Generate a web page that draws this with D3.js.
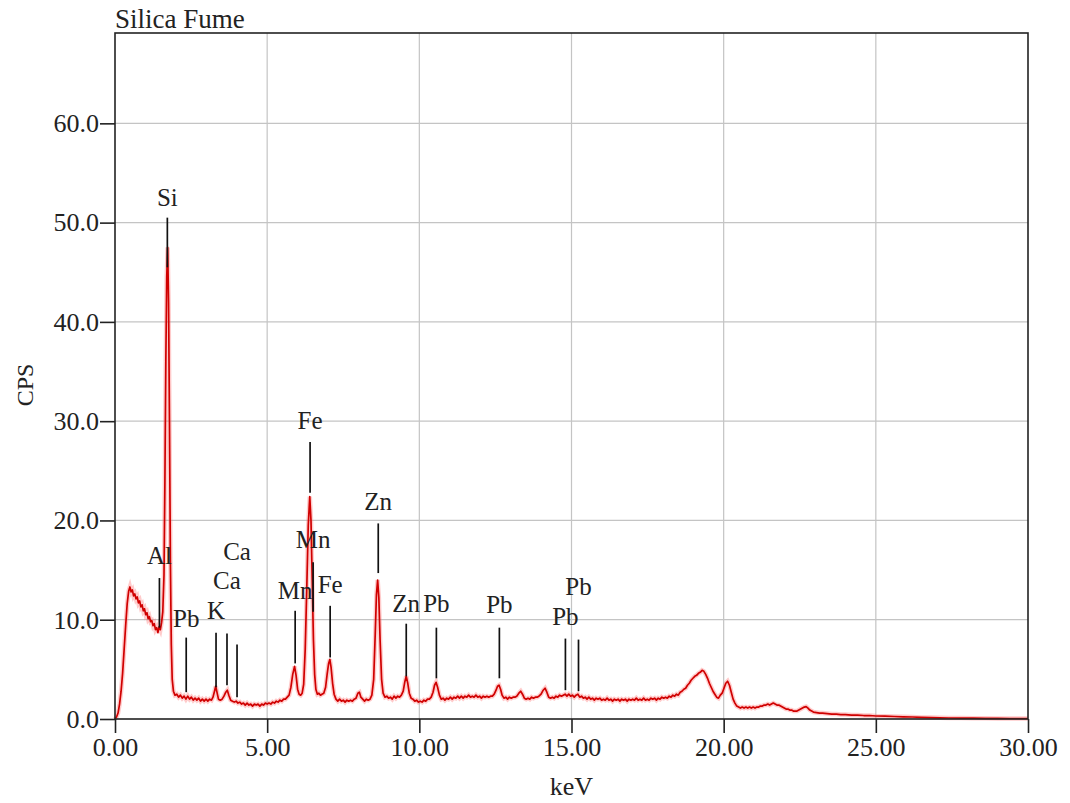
<!DOCTYPE html>
<html>
<head>
<meta charset="utf-8">
<script src="https://cdn.jsdelivr.net/npm/d3@7"></script>
<style>
  html, body { margin: 0; padding: 0; background: #fff; }
</style>
</head>
<body>
<div id="canvas"></div>
<script>
// Constants
const w = 1070;
const h = 803;
const plotLeft = 115, plotRight = 1028, plotTop = 33, plotBottom = 719;
const font = "'Liberation Serif', 'Times New Roman', serif";

// Data
const xTicks = [0, 5, 10, 15, 20, 25, 30];
const yTicks = [0, 10, 20, 30, 40, 50, 60];

// spectrum as [keV, CPS]
const spectrum = [
  [0.00,0.0],[0.05,0.2],[0.10,0.6],[0.15,1.5],[0.20,2.8],[0.25,4.6],[0.30,7.0],[0.35,9.4],[0.40,11.6],[0.45,12.9],
  [0.49,13.3],[0.53,12.8],[0.57,13.0],[0.61,12.4],[0.65,12.6],[0.69,12.1],[0.73,12.3],[0.77,11.7],[0.81,11.9],[0.85,11.3],
  [0.89,11.5],[0.93,10.9],[0.97,11.1],[1.01,10.5],[1.05,10.7],[1.09,10.1],[1.13,10.3],[1.17,9.8],[1.21,9.9],[1.25,9.4],
  [1.29,9.6],[1.33,9.0],[1.37,9.2],[1.41,8.7],[1.45,9.3],[1.49,9.0],[1.53,9.7],[1.57,10.8],[1.61,14.5],[1.64,24],
  [1.67,36],[1.70,44.5],[1.73,47.5],[1.76,42],[1.79,30],[1.82,16],[1.85,7.5],[1.88,4.0],[1.92,2.8],[1.97,2.4],
  [2.03,2.5],[2.09,2.2],[2.15,2.4],[2.21,2.1],[2.27,2.3],[2.33,2.0],[2.39,2.3],[2.45,2.0],[2.51,2.2],[2.57,1.9],
  [2.63,2.1],[2.69,1.9],[2.75,2.1],[2.81,1.8],[2.87,2.0],[2.93,1.8],[2.99,2.0],[3.05,1.8],[3.11,2.0],[3.17,1.9],
  [3.22,2.2],[3.27,2.8],[3.31,3.3],[3.35,2.7],[3.40,2.0],[3.46,1.9],[3.52,2.0],[3.58,2.3],[3.64,2.7],[3.69,2.9],
  [3.74,2.4],[3.80,1.9],[3.86,1.8],[3.92,1.7],[3.98,1.8],[4.04,1.6],[4.10,1.7],[4.16,1.5],[4.22,1.6],[4.28,1.4],
  [4.34,1.6],[4.40,1.4],[4.46,1.5],[4.52,1.3],[4.58,1.5],[4.64,1.4],[4.70,1.5],[4.76,1.3],[4.82,1.5],[4.88,1.4],
  [4.94,1.6],[5.00,1.5],[5.06,1.6],[5.12,1.5],[5.18,1.7],[5.24,1.6],[5.30,1.8],[5.36,1.7],[5.42,1.9],[5.48,1.8],
  [5.54,2.0],[5.60,2.0],[5.66,2.2],[5.72,2.4],[5.78,3.2],[5.84,4.5],[5.90,5.3],[5.95,4.4],[6.00,3.0],[6.05,2.5],
  [6.10,2.4],[6.15,2.6],[6.20,3.5],[6.25,7],[6.30,13],[6.35,19.5],[6.40,22.4],[6.44,20],[6.48,14],[6.52,8],
  [6.56,4.5],[6.60,3.0],[6.65,2.5],[6.70,2.6],[6.75,2.4],[6.80,2.5],[6.86,2.6],[6.92,3.2],[6.97,4.5],[7.02,5.6],
  [7.06,6.0],[7.10,5.2],[7.15,3.6],[7.20,2.5],[7.26,2.0],[7.32,1.8],[7.38,2.0],[7.44,1.8],[7.50,1.9],[7.56,1.7],
  [7.62,1.9],[7.68,1.8],[7.74,1.9],[7.80,1.8],[7.86,2.0],[7.92,2.1],[7.98,2.6],[8.03,2.7],[8.08,2.2],[8.14,2.0],
  [8.20,1.8],[8.26,2.0],[8.32,1.9],[8.38,2.0],[8.44,2.4],[8.50,4.0],[8.55,8.5],[8.59,12.5],[8.63,14.0],[8.67,12.2],
  [8.71,8.0],[8.76,4.0],[8.81,2.6],[8.87,2.2],[8.93,2.3],[8.99,2.1],[9.05,2.2],[9.11,2.0],[9.17,2.3],[9.23,2.1],
  [9.29,2.3],[9.35,2.2],[9.41,2.4],[9.47,2.8],[9.52,3.7],[9.57,4.3],[9.62,3.6],[9.67,2.6],[9.73,2.1],[9.79,2.0],
  [9.85,1.8],[9.91,1.9],[9.97,1.7],[10.03,1.8],[10.09,1.7],[10.15,1.9],[10.21,1.8],[10.27,2.0],[10.33,2.0],[10.39,2.2],
  [10.45,2.7],[10.50,3.4],[10.55,3.7],[10.60,3.2],[10.66,2.4],[10.72,2.0],[10.78,2.1],[10.84,1.9],[10.90,2.1],[10.96,2.0],
  [11.02,2.2],[11.08,2.0],[11.14,2.2],[11.20,2.1],[11.26,2.3],[11.32,2.1],[11.38,2.3],[11.44,2.1],[11.50,2.3],[11.56,2.2],
  [11.62,2.4],[11.68,2.2],[11.74,2.3],[11.80,2.2],[11.86,2.4],[11.92,2.2],[11.98,2.3],[12.04,2.1],[12.10,2.3],[12.16,2.2],
  [12.22,2.3],[12.28,2.2],[12.34,2.3],[12.40,2.3],[12.46,2.5],[12.52,2.9],[12.57,3.3],[12.62,3.4],[12.67,3.0],[12.72,2.4],
  [12.78,2.1],[12.84,2.2],[12.90,2.0],[12.96,2.2],[13.02,2.1],[13.08,2.2],[13.14,2.2],[13.20,2.3],[13.27,2.6],[13.33,2.8],
  [13.39,2.5],[13.45,2.1],[13.51,2.0],[13.57,2.1],[13.63,2.0],[13.69,2.2],[13.75,2.1],[13.81,2.2],[13.87,2.2],[13.93,2.3],
  [14.00,2.5],[14.07,2.9],[14.13,3.1],[14.19,2.7],[14.25,2.2],[14.31,2.1],[14.37,2.2],[14.43,2.1],[14.49,2.3],[14.55,2.2],
  [14.61,2.4],[14.67,2.3],[14.73,2.4],[14.79,2.5],[14.85,2.3],[14.91,2.5],[14.97,2.3],[15.03,2.4],[15.09,2.2],[15.15,2.4],
  [15.21,2.5],[15.27,2.2],[15.33,2.3],[15.39,2.1],[15.45,2.2],[15.51,2.0],[15.57,2.2],[15.63,2.0],[15.69,2.1],[15.75,1.9],
  [15.81,2.1],[15.87,2.0],[15.93,2.1],[15.99,1.9],[16.05,2.0],[16.11,1.9],[16.17,2.1],[16.23,1.9],[16.29,2.0],[16.35,1.8],
  [16.41,2.0],[16.47,1.9],[16.53,2.0],[16.59,1.8],[16.65,2.0],[16.71,1.9],[16.77,2.0],[16.83,1.8],[16.89,2.0],[16.95,1.9],
  [17.01,2.0],[17.07,1.9],[17.13,2.1],[17.19,1.9],[17.25,2.0],[17.31,1.9],[17.37,2.1],[17.43,1.9],[17.49,2.0],[17.55,1.9],
  [17.61,2.1],[17.67,2.0],[17.73,2.1],[17.79,1.9],[17.85,2.1],[17.91,2.0],[17.97,2.2],[18.03,2.1],[18.09,2.2],[18.15,2.1],
  [18.21,2.3],[18.27,2.2],[18.33,2.4],[18.39,2.3],[18.45,2.5],[18.51,2.4],[18.57,2.7],[18.63,2.8],[18.69,3.0],[18.75,3.1],
  [18.81,3.4],[18.87,3.6],[18.93,3.9],[18.99,4.1],[19.05,4.3],[19.11,4.4],[19.17,4.6],[19.23,4.7],[19.29,4.9],[19.35,4.8],
  [19.41,4.5],[19.47,4.1],[19.53,3.6],[19.59,3.2],[19.65,2.8],[19.71,2.5],[19.77,2.2],[19.83,2.1],[19.89,2.4],[19.95,2.6],
  [20.01,3.1],[20.07,3.6],[20.13,3.8],[20.19,3.4],[20.25,2.7],[20.31,2.0],[20.37,1.6],[20.43,1.3],[20.49,1.2],[20.55,1.1],
  [20.61,1.2],[20.67,1.1],[20.73,1.2],[20.79,1.1],[20.85,1.2],[20.91,1.1],[20.97,1.2],[21.03,1.1],[21.09,1.2],[21.15,1.2],
  [21.21,1.3],[21.27,1.3],[21.33,1.4],[21.39,1.4],[21.45,1.5],[21.51,1.4],[21.57,1.5],[21.63,1.6],[21.69,1.5],[21.75,1.4],
  [21.81,1.4],[21.87,1.3],[21.93,1.2],[21.99,1.1],[22.05,1.0],[22.11,1.0],[22.17,0.9],[22.23,0.9],[22.29,0.8],[22.35,0.8],
  [22.41,0.8],[22.47,0.9],[22.53,1.0],[22.59,1.1],[22.65,1.2],[22.71,1.25],[22.77,1.1],[22.83,0.9],[22.89,0.8],[22.95,0.7],
  [23.05,0.65],[23.15,0.6],[23.25,0.6],[23.40,0.55],[23.55,0.5],[23.70,0.5],[23.85,0.45],[24.0,0.45],[24.2,0.4],[24.4,0.4],
  [24.6,0.35],[24.8,0.35],[25.0,0.3],[25.3,0.28],[25.6,0.25],[25.9,0.22],[26.2,0.2],[26.5,0.16],[26.8,0.14],[27.1,0.12],
  [27.4,0.1],[27.8,0.09],[28.2,0.08],[28.6,0.07],[29.0,0.06],[29.4,0.05],[29.8,0.05],[30.0,0.05]
];

// peak markers: element, keV, line top / bottom (CPS), label baseline (CPS)
const markLabels = ["Al", "Si", "Pb", "K", "Ca", "Ca", "Mn", "Fe", "Mn", "Fe", "Zn", "Zn", "Pb", "Pb", "Pb", "Pb"];
const markKeV    = [1.46, 1.72, 2.34, 3.32, 3.68, 4.01, 5.92, 6.41, 6.51, 7.07, 8.65, 9.57, 10.56, 12.63, 14.80, 15.23];
const markTop    = [14.2, 50.5, 8.2, 8.7, 8.6, 7.5, 10.9, 27.9, 15.8, 11.4, 19.7, 9.6, 9.2, 9.2, 8.1, 8.0];
const markBottom = [9.2, 45.5, 2.7, 3.2, 3.4, 2.2, 5.6, 22.8, 10.8, 6.2, 14.7, 4.3, 4.1, 4.1, 2.9, 2.8];
const markText   = [15.6, 51.7, 9.3, 10.1, 13.1, 16.0, 12.1, 29.2, 17.2, 12.7, 21.1, 10.8, 10.8, 10.7, 9.5, 12.5];

// Scales
const xScale = d3.scaleLinear().domain([0, 30]).range([plotLeft, plotRight]);
const yScale = d3.scaleLinear().domain([0, 69.1]).range([plotBottom, plotTop]);

// SVG setup
const svg = d3.select("#canvas").append("svg")
  .attr("width", w)
  .attr("height", h)
  .style("background-color", "white")
  .style("display", "block");

function drawGrid() {
  const grid = svg.append("g").attr("class", "grid");
  grid.selectAll(".vline")
    .data(xTicks.filter(d => d > 0 && d < 30))
    .join("line")
    .attr("x1", d => xScale(d)).attr("x2", d => xScale(d))
    .attr("y1", plotTop).attr("y2", plotBottom)
    .attr("stroke", "#c4c4c4").attr("stroke-width", 1.2);
  grid.selectAll(".hline")
    .data(yTicks.filter(d => d > 0))
    .join("line")
    .attr("x1", plotLeft).attr("x2", plotRight)
    .attr("y1", d => yScale(d)).attr("y2", d => yScale(d))
    .attr("stroke", "#c4c4c4").attr("stroke-width", 1.2);
}

function drawAxes() {
  const yAxisGroup = svg.append("g")
    .attr("transform", `translate(${plotLeft},0)`)
    .call(d3.axisLeft(yScale).tickValues(yTicks).tickFormat(d3.format(".1f"))
      .tickSize(15).tickSizeOuter(0).tickPadding(1));
  const xAxisGroup = svg.append("g")
    .attr("transform", `translate(0,${plotBottom})`)
    .call(d3.axisBottom(xScale).tickValues(xTicks).tickFormat(d3.format(".2f"))
      .tickSize(14).tickSizeOuter(0).tickPadding(5));

  [yAxisGroup, xAxisGroup].forEach(g => {
    g.select(".domain").remove();
    g.selectAll(".tick line").attr("stroke", "#222").attr("stroke-width", 1.6);
    g.selectAll(".tick text")
      .attr("fill", "#222")
      .style("font-family", font)
      .style("font-size", "26px");
  });

  // plot frame
  svg.append("rect")
    .attr("x", plotLeft).attr("y", plotTop)
    .attr("width", plotRight - plotLeft).attr("height", plotBottom - plotTop)
    .attr("fill", "none")
    .attr("stroke", "#222")
    .attr("stroke-width", 1.6);

  svg.append("text")
    .attr("x", plotLeft).attr("y", 28)
    .style("font-family", font).style("font-size", "27px")
    .attr("fill", "#222")
    .text("Silica Fume");

  svg.append("text")
    .attr("transform", "rotate(-90)")
    .attr("x", -385).attr("y", 33)
    .style("text-anchor", "middle")
    .style("font-family", font).style("font-size", "24px")
    .attr("fill", "#222")
    .text("CPS");

  svg.append("text")
    .attr("x", (plotLeft + plotRight) / 2).attr("y", 795)
    .style("text-anchor", "middle")
    .style("font-family", font).style("font-size", "26px")
    .attr("fill", "#222")
    .text("keV");
}

function drawSpectrum() {
  const line = d3.line().x(d => xScale(d[0])).y(d => yScale(d[1]));
  // soft halo like the scanned original
  svg.append("path")
    .datum(spectrum)
    .attr("d", line)
    .attr("fill", "none")
    .attr("stroke", "#ff6a6a")
    .attr("stroke-opacity", 0.35)
    .attr("stroke-width", 4.5);
  svg.append("path")
    .datum(spectrum)
    .attr("d", line)
    .attr("fill", "none")
    .attr("stroke", "#d00000")
    .attr("stroke-width", 1.7)
    .attr("stroke-linejoin", "round");
}

function drawMarkers() {
  const g = svg.append("g").attr("class", "markers");
  markKeV.forEach((k, i) => {
    g.append("line")
      .attr("x1", xScale(k)).attr("x2", xScale(k))
      .attr("y1", yScale(markTop[i])).attr("y2", yScale(markBottom[i]))
      .attr("stroke", "#111")
      .attr("stroke-width", 1.7);
    g.append("text")
      .attr("x", xScale(k)).attr("y", yScale(markText[i]))
      .style("text-anchor", "middle")
      .style("font-family", font).style("font-size", "25px")
      .attr("fill", "#222")
      .text(markLabels[i]);
  });
}

drawGrid();
drawSpectrum();
drawAxes();
drawMarkers();
</script>
</body>
</html>
